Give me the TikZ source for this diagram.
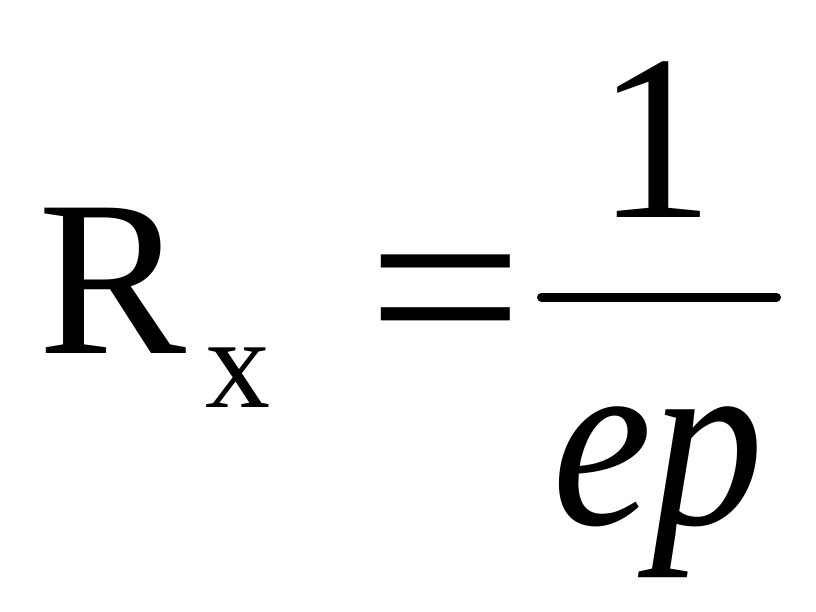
\documentclass[tikz,border=0pt]{standalone}
\usepackage{fontspec}
\setmainfont{Liberation Serif}
\tikzset{glyph/.style={inner sep=0pt, outer sep=0pt, anchor=base west}}
\begin{document}
\begin{tikzpicture}[x=1pt,y=-1pt]
\fill[white] (0,0) rectangle (816,612);
\useasboundingbox (0,0) rectangle (816,612);
\node[glyph] (R) at (38,353) {\fontsize{222}{222}\selectfont R};
\node[glyph] (x) at (205,407) {\fontsize{130}{130}\selectfont x};
\node[glyph, xscale=1.05] (eq) at (367,375) {\fontsize{264}{264}\selectfont =};
\node[glyph] (one) at (596,218) {\fontsize{236}{236}\selectfont 1};
\node[glyph, xscale=0.9] (ep) at (552,524) {\fontsize{250}{250}\selectfont\itshape ep};
\coordinate (fl) at (541.5,297);
\coordinate (fr) at (776.5,297);
\draw[line width=9pt, line cap=round] (fl) -- (fr);
\end{tikzpicture}
\end{document}
